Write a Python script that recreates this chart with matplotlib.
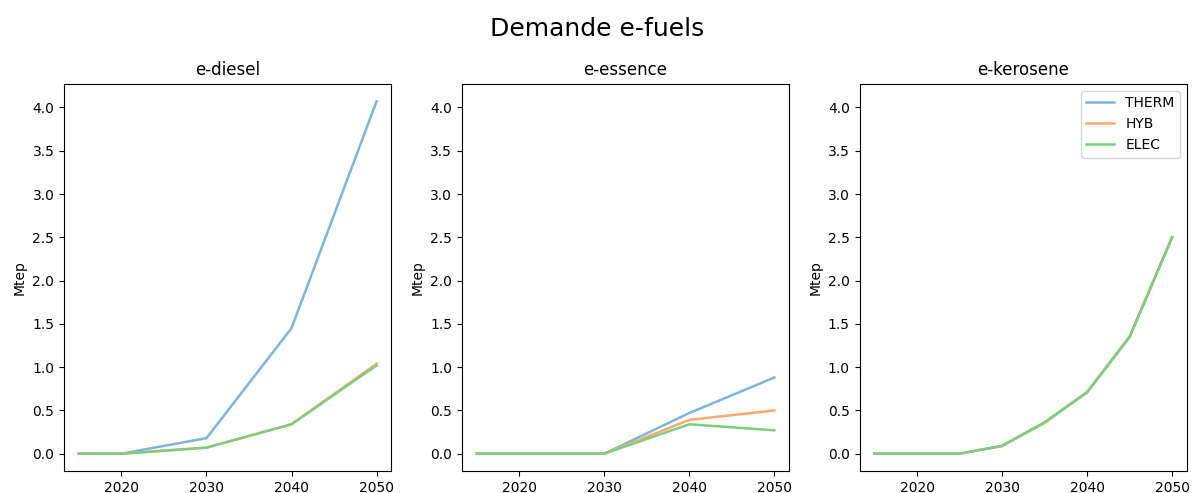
import matplotlib
matplotlib.use("Agg")
import matplotlib.pyplot as plt

# years of the scenario
years = [2015, 2020, 2025, 2030, 2035, 2040, 2045, 2050]
scenarios = ["THERM", "HYB", "ELEC"]
fuels = ["e-diesel", "e-essence", "e-kerosene"]

# demand in Mtep
diesel_therm = [0.0, 0.0, 0.09, 0.18, 0.815, 1.45, 2.76, 4.07]
diesel_hyb = [0.0, 0.0, 0.035, 0.07, 0.205, 0.34, 0.69, 1.04]
diesel_elec = [0.0, 0.0, 0.035, 0.07, 0.205, 0.34, 0.68, 1.02]

essence_therm = [0.0, 0.0, 0.0, 0.0, 0.235, 0.47, 0.675, 0.88]
essence_hyb = [0.0, 0.0, 0.0, 0.0, 0.195, 0.39, 0.445, 0.50]
essence_elec = [0.0, 0.0, 0.0, 0.0, 0.17, 0.34, 0.305, 0.27]

kero_therm = [0.0, 0.0, 0.0, 0.09, 0.36, 0.71, 1.35, 2.50]
kero_hyb = [0.0, 0.0, 0.0, 0.09, 0.36, 0.71, 1.35, 2.50]
kero_elec = [0.0, 0.0, 0.0, 0.09, 0.36, 0.71, 1.35, 2.50]

data = {
    "e-diesel": [diesel_therm, diesel_hyb, diesel_elec],
    "e-essence": [essence_therm, essence_hyb, essence_elec],
    "e-kerosene": [kero_therm, kero_hyb, kero_elec],
}

# light (faded) versions of the tab colours
colors = ["#80b4db", "#ffa970", "#7fcb7f"]

fig, axes = plt.subplots(1, 3, figsize=(11.95, 4.93), dpi=100)
fig.subplots_adjust(left=0.0536, right=0.9933, bottom=0.044, top=0.830, wspace=0.215)

for ax, fuel in zip(axes, fuels):
    for name, vals, c in zip(scenarios, data[fuel], colors):
        ax.plot(years, vals, label=name, color=c, lw=1.8)
    ax.set_title(fuel)
    ax.set_ylabel("Mtep")
    ax.set_ylim(-0.2035, 4.2735)
    ax.set_xticks([2020, 2030, 2040, 2050])

axes[2].legend(loc="upper right")
fig.suptitle("Demande e-fuels", fontsize=18, y=0.965)

plt.savefig("out.png")
